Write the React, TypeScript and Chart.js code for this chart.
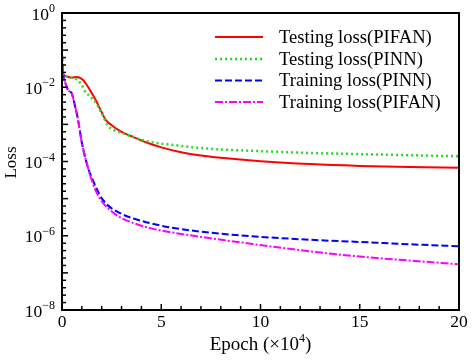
import { useEffect, useRef } from "react";
import { Chart, registerables } from "chart.js";

Chart.register(...registerables);

// ---- data (epoch in units of 1e4) ----
const epochTestPIFAN = [0, 0.1, 0.3, 0.5, 0.75, 1.0, 1.2, 1.5, 1.75, 2.0, 2.2, 2.5, 3.0, 3.5, 4.3, 5.0, 6, 7, 8, 10, 12.5, 15, 17.5, 20];
const lossTestPIFAN = [2.4e-2, 2.1e-2, 1.9e-2, 1.8e-2, 1.9e-2, 1.66e-2, 1.26e-2, 6.9e-3, 4.0e-3, 2.1e-3, 1.32e-3, 9.5e-4, 6.3e-4, 4.8e-4, 3.2e-4, 2.4e-4, 1.78e-4, 1.45e-4, 1.26e-4, 1.02e-4, 8.5e-5, 7.6e-5, 7.1e-5, 6.8e-5];

const epochTestPINN = [0, 0.2, 0.5, 0.8, 1.0, 1.15, 1.5, 1.75, 2.0, 2.3, 2.6, 3.0, 4.3, 5.7, 7, 10, 12.5, 15, 17.5, 20];
const lossTestPINN = [2.5e-2, 2.0e-2, 1.8e-2, 1.55e-2, 1.12e-2, 7.9e-3, 5.1e-3, 3.5e-3, 2.0e-3, 9.5e-4, 7.1e-4, 5.9e-4, 3.5e-4, 2.75e-4, 2.3e-4, 1.9e-4, 1.7e-4, 1.58e-4, 1.48e-4, 1.38e-4];

const epochTrainPINN = [0, 0.05, 0.15, 0.3, 0.5, 0.65, 0.8, 1.0, 1.3, 1.55, 1.8, 2.07, 2.4, 2.8, 3.3, 3.8, 4.4, 5.4, 7, 9, 12.5, 15, 17.5, 20];
const lossTrainPINN = [8e-2, 2.5e-2, 1.4e-2, 8.5e-3, 6.6e-3, 3.2e-3, 1.4e-3, 3.2e-4, 7.1e-5, 3.2e-5, 1.6e-5, 9.1e-6, 6.0e-6, 4.4e-6, 3.3e-6, 2.7e-6, 2.2e-6, 1.7e-6, 1.29e-6, 1.02e-6, 7.8e-7, 6.8e-7, 5.9e-7, 5.2e-7];

const epochTrainPIFAN = [0, 0.05, 0.15, 0.3, 0.5, 0.65, 0.8, 1.0, 1.3, 1.55, 1.8, 2.07, 2.6, 3.0, 3.5, 4.0, 4.5, 5.0, 6, 7, 8.5, 10, 12.5, 15, 17.5, 20];
const lossTrainPIFAN = [8e-2, 2.5e-2, 1.4e-2, 8.5e-3, 6.6e-3, 3.2e-3, 1.4e-3, 3.2e-4, 7.1e-5, 2.6e-5, 1.26e-5, 7.6e-6, 4.1e-6, 3.0e-6, 2.3e-6, 1.86e-6, 1.58e-6, 1.38e-6, 1.12e-6, 9.3e-7, 7.2e-7, 5.6e-7, 3.8e-7, 2.75e-7, 2.15e-7, 1.7e-7];

const seriesLabels = ["Testing loss(PIFAN)", "Testing loss(PINN)", "Training loss(PINN)", "Training loss(PIFAN)"];
const xTickLabels = ["0", "5", "10", "15", "20"];
const yTickExponents = ["0", "\u22122", "\u22124", "\u22126", "\u22128"];

const colors = ["#ff0000", "#22dd22", "#0000ff", "#ff00ff"];
const dashes: number[][] = [[], [2, 3], [7, 3], [8, 2, 2, 2]];
const widths = [2, 2.5, 2, 2];

const zip = (xs: number[], ys: number[]) => xs.map((x, i) => ({ x, y: ys[i] }));

const FONT = "'Liberation Serif', 'Times New Roman', serif";

const decorPlugin = {
  id: "decor",
  afterDatasetsDraw(chart: any) {
    const ctx: CanvasRenderingContext2D = chart.ctx;
    const { left, right, top, bottom } = chart.chartArea;
    const xs = chart.scales.x;
    const ys = chart.scales.y;
    ctx.save();
    ctx.strokeStyle = "#000";
    ctx.fillStyle = "#000";

    // frame
    ctx.lineWidth = 2;
    ctx.strokeRect(left, top, right - left, bottom - top);

    // y ticks (inward) every 0.2 decade
    ctx.lineWidth = 1.5;
    for (let k = 0; k <= 40; k++) {
      const v = Math.pow(10, -k / 5);
      const py = ys.getPixelForValue(v);
      const len = k % 5 === 0 ? 6 : 4;
      ctx.beginPath();
      ctx.moveTo(left, py);
      ctx.lineTo(left + len, py);
      ctx.stroke();
    }
    // x ticks (inward)
    for (let i = 0; i <= 20; i++) {
      const px = xs.getPixelForValue(i);
      const len = i % 5 === 0 ? 6 : 4;
      ctx.beginPath();
      ctx.moveTo(px, bottom);
      ctx.lineTo(px, bottom - len);
      ctx.stroke();
    }

    // y tick labels 10^n
    yTickExponents.forEach((ex, i) => {
      const py = ys.getPixelForValue(Math.pow(10, -2 * i));
      ctx.font = `12px ${FONT}`;
      const wExp = ctx.measureText(ex).width;
      ctx.font = `17.5px ${FONT}`;
      const wBase = ctx.measureText("10").width;
      const rightX = left - 7;
      ctx.textBaseline = "middle";
      ctx.textAlign = "left";
      ctx.fillText("10", rightX - wExp - wBase, py + 2);
      ctx.font = `12px ${FONT}`;
      ctx.fillText(ex, rightX - wExp, py - 4);
    });

    // x tick labels
    ctx.font = `17.5px ${FONT}`;
    ctx.textAlign = "center";
    ctx.textBaseline = "middle";
    xTickLabels.forEach((t) => {
      const px = xs.getPixelForValue(Number(t));
      ctx.fillText(t, px, bottom + 12);
    });

    // x title: Epoch (×10^4)
    const cx = (left + right) / 2;
    const big = `19px ${FONT}`;
    const small = `12px ${FONT}`;
    ctx.font = big;
    const p1 = "Epoch (\u00d710";
    const p3 = ")";
    const w1 = ctx.measureText(p1).width;
    const w3 = ctx.measureText(p3).width;
    ctx.font = small;
    const w2 = ctx.measureText("4").width;
    const total = w1 + w2 + w3;
    const sx = cx - total / 2;
    ctx.textAlign = "left";
    ctx.font = big;
    ctx.fillText(p1, sx, bottom + 35);
    ctx.font = small;
    ctx.fillText("4", sx + w1, bottom + 29);
    ctx.font = big;
    ctx.fillText(p3, sx + w1 + w2, bottom + 35);

    // y title
    ctx.save();
    ctx.translate(12, (top + bottom) / 2 + 1);
    ctx.rotate(-Math.PI / 2);
    ctx.textAlign = "center";
    ctx.textBaseline = "middle";
    ctx.font = `17px ${FONT}`;
    ctx.fillText("Loss", 0, 0);
    ctx.restore();

    // legend
    const rowY = [37, 59, 80.5, 102];
    const lx0 = 215, lx1 = 263, tx = 279;
    seriesLabels.forEach((lab, i) => {
      ctx.save();
      ctx.strokeStyle = colors[i];
      ctx.lineWidth = widths[i];
      ctx.setLineDash(dashes[i]);
      ctx.beginPath();
      ctx.moveTo(lx0, rowY[i]);
      ctx.lineTo(lx1, rowY[i]);
      ctx.stroke();
      ctx.restore();
      ctx.font = `18.6px ${FONT}`;
      ctx.textAlign = "left";
      ctx.textBaseline = "middle";
      ctx.fillStyle = "#000";
      ctx.fillText(lab, tx, rowY[i] + 1);
    });

    ctx.restore();
  },
};

export default function App() {
  const ref = useRef<HTMLCanvasElement>(null);
  useEffect(() => {
    if (!ref.current) return;
    const sets = [
      zip(epochTestPIFAN, lossTestPIFAN),
      zip(epochTestPINN, lossTestPINN),
      zip(epochTrainPINN, lossTrainPINN),
      zip(epochTrainPIFAN, lossTrainPIFAN),
    ];
    // draw order: training first, then testing on top
    const order = [3, 2, 1, 0];
    const chart = new Chart(ref.current, {
      type: "line",
      data: {
        datasets: order.map((i) => ({
          label: seriesLabels[i],
          data: sets[i],
          borderColor: colors[i],
          backgroundColor: colors[i],
          borderWidth: widths[i],
          borderDash: dashes[i],
          borderCapStyle: "butt" as const,
          pointRadius: 0,
          fill: false,
          cubicInterpolationMode: "monotone" as const,
        })),
      },
      options: {
        animation: false,
        responsive: true,
        maintainAspectRatio: false,
        layout: { padding: { top: 13, right: 13, left: 0, bottom: 0 } },
        plugins: { legend: { display: false }, tooltip: { enabled: false } },
        scales: {
          x: {
            type: "linear",
            min: 0,
            max: 20,
            ticks: { display: false },
            grid: { display: false },
            border: { display: false },
            afterFit: (s: any) => {
              s.height = 50;
            },
          },
          y: {
            type: "logarithmic",
            min: 1e-8,
            max: 1,
            ticks: { display: false },
            grid: { display: false },
            border: { display: false },
            afterFit: (s: any) => {
              s.width = 62;
            },
          },
        },
      },
      plugins: [decorPlugin],
    });
    return () => chart.destroy();
  }, []);
  return (
    <div style={{ position: "fixed", left: 0, top: 0, width: 472, height: 360, background: "#fff" }}>
      <canvas ref={ref} />
    </div>
  );
}
